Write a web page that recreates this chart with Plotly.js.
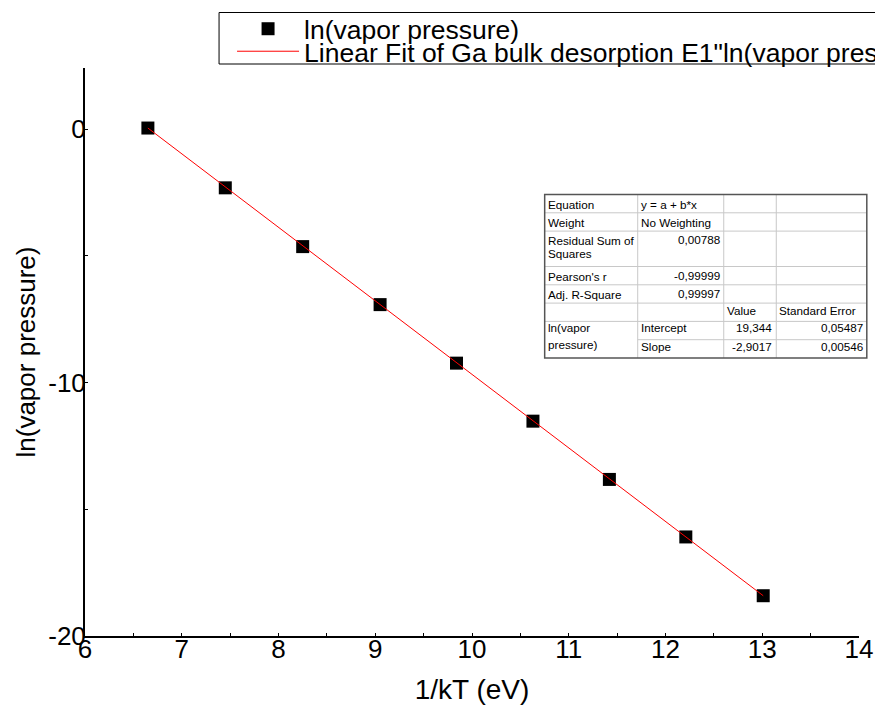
<!DOCTYPE html>
<html>
<head>
<meta charset="utf-8">
<script src="https://cdn.plot.ly/plotly-3.0.1.min.js"></script>
<style>
  html, body { margin: 0; padding: 0; background: #fff; }
  #chart { width: 875px; height: 706px; }
</style>
</head>
<body>
<div id="chart"></div>
<script>
// ---- data ----
const invKT = [6.65, 7.45, 8.25, 9.05, 9.84, 10.63, 11.42, 12.21, 13.01];
const lnP   = [0.05, -2.31, -4.63, -6.92, -9.23, -11.52, -13.82, -16.09, -18.41];
const fitX  = [6.65, 13.01];
const fitY  = [0.05, -18.41];
const xTicks = [6, 7, 8, 9, 10, 11, 12, 13, 14];
const yTicks = [-20, -10, 0];
const seriesName = 'ln(vapor pressure)';
const fitName = 'Linear Fit of Ga bulk desorption E1"ln(vapor pressure)"';

// fit table contents
const tableLabels = ['Equation', 'Weight', 'Residual Sum of|Squares', "Pearson's r", 'Adj. R-Square'];
const tableValues = ['y = a + b*x', 'No Weighting', '0,00788', '-0,99999', '0,99997'];
const paramHeader = ['Value', 'Standard Error'];
const paramNames = ['Intercept', 'Slope'];
const paramValues = ['19,344', '-2,9017'];
const paramErrors = ['0,05487', '0,00546'];
const paramGroup = 'ln(vapor|pressure)';

// ---- layout helpers (pixel -> paper) ----
const PL = 85, PR = 858.7, PT = 68, PB = 636;
const fx = p => (p - PL) / (PR - PL);
const fy = p => (PB - p) / (PB - PT);
const FONT = 'Liberation Sans, Arial, Helvetica, sans-serif';

const shapes = [];
const annotations = [];

// legend frame (one box around both legend rows)
shapes.push({type:'rect', xref:'paper', yref:'paper', x0:fx(219), x1:fx(960), y0:fy(12.5), y1:fy(64),
  line:{color:'#000', width:1}, fillcolor:'rgba(0,0,0,0)', layer:'above'});

// table geometry (pixels)
const cx = [544.5, 637.5, 723.5, 776, 866.5];
const ry = [194.5, 212.8, 231.1, 266.5, 284.8, 303.1, 321.4, 339.7, 358];
const light = '#c8c8c8';
shapes.push({type:'rect', xref:'paper', yref:'paper', x0:fx(cx[0]), x1:fx(cx[4]), y0:fy(ry[0]), y1:fy(ry[8]),
  fillcolor:'#ffffff', line:{width:0}, layer:'above'});
[1,2,3].forEach(i => shapes.push({type:'line', xref:'paper', yref:'paper', x0:fx(cx[i]), x1:fx(cx[i]),
  y0:fy(ry[0]), y1:fy(ry[8]), line:{color:light, width:1}, layer:'above'}));
[1,2,3,4,5,6].forEach(i => shapes.push({type:'line', xref:'paper', yref:'paper', x0:fx(cx[0]), x1:fx(cx[4]),
  y0:fy(ry[i]), y1:fy(ry[i]), line:{color:light, width:1}, layer:'above'}));
shapes.push({type:'line', xref:'paper', yref:'paper', x0:fx(cx[1]), x1:fx(cx[4]),
  y0:fy(ry[7]), y1:fy(ry[7]), line:{color:light, width:1}, layer:'above'});
shapes.push({type:'rect', xref:'paper', yref:'paper', x0:fx(cx[0]), x1:fx(cx[4]), y0:fy(ry[0]), y1:fy(ry[8]),
  line:{color:'#555555', width:1.5}, layer:'above'});

function txt(t, x, y, anchor) {
  annotations.push({text:t, xref:'paper', yref:'paper', x:fx(x), y:fy(y), xanchor:anchor, yanchor:'middle',
    showarrow:false, font:{family:FONT, size:11.7, color:'#000'}, borderpad:0});
}
const textY = [204, 222.3, 240.5, 276, 294];
tableLabels.forEach((lab, i) => {
  lab.split('|').forEach((p, k) => txt(p, cx[0] + 2, textY[i] + k * 13, 'left'));
});
tableValues.forEach((v, i) => {
  if (i < 2) txt(v, cx[1] + 2, textY[i], 'left');
  else txt(v, cx[2] - 3, textY[i] - 1, 'right');
});
txt(paramHeader[0], cx[2] + 2, 310, 'left');
txt(paramHeader[1], cx[3] + 2, 310, 'left');
const pY = [327.5, 346];
paramNames.forEach((n, i) => txt(n, cx[1] + 2, pY[i], 'left'));
paramValues.forEach((v, i) => txt(v, cx[3] - 3, pY[i], 'right'));
paramErrors.forEach((v, i) => txt(v, cx[4] - 3, pY[i], 'right'));
paramGroup.split('|').forEach((p, k) => txt(p, cx[0] + 2, 327.5 + k * 17, 'left'));

const traces = [
  {x: invKT, y: lnP, type:'scatter', mode:'markers', name: seriesName, legend:'legend',
   marker:{symbol:'square', size:13, color:'#000'}},
  {x: fitX, y: fitY, type:'scatter', mode:'lines', name: fitName, legend:'legend2',
   line:{color:'#ff0000', width:1}}
];

const axisCommon = {
  showline:true, linecolor:'#000', linewidth:2, mirror:false,
  showgrid:false, zeroline:false, ticks:'inside', ticklen:3, tickcolor:'#000', tickwidth:1,
  tickfont:{family:FONT, size:26, color:'#000'}, fixedrange:true
};
const legendCommon = {xanchor:'left', yanchor:'top', bgcolor:'rgba(0,0,0,0)', borderwidth:0,
  font:{family:FONT, size:26.5, color:'#000'}, itemwidth:62, tracegroupgap:0};

const layout = {
  width: 875, height: 706,
  paper_bgcolor:'#fff', plot_bgcolor:'#fff',
  margin:{l:PL, r:875-PR, t:PT, b:706-PB, autoexpand:false},
  showlegend:true,
  legend: Object.assign({}, legendCommon, {x:fx(232), y:fy(5)}),
  legend2: Object.assign({}, legendCommon, {x:fx(232), y:fy(27.5)}),
  xaxis: Object.assign({}, axisCommon, {range:[6, 14], tickvals:xTicks, ticktext:xTicks.map(String),
    minor:{dtick:0.5, ticks:'inside', ticklen:3, tickcolor:'#000'},
    ticklabelstandoff:-11,
    title:{text:'1/kT (eV)', font:{family:FONT, size:28, color:'#000'}, standoff:16}}),
  yaxis: Object.assign({}, axisCommon, {range:[-20, 2.42], tickvals:yTicks, ticktext:yTicks.map(String),
    minor:{dtick:5, ticks:'inside', ticklen:3, tickcolor:'#000'},
    ticklabelstandoff:-8,
    title:{text:'ln(vapor pressure)', font:{family:FONT, size:26, color:'#000'}, standoff:5}}),
  shapes: shapes,
  annotations: annotations
};

Plotly.newPlot('chart', traces, layout, {displayModeBar:false, staticPlot:true});
</script>
</body>
</html>
